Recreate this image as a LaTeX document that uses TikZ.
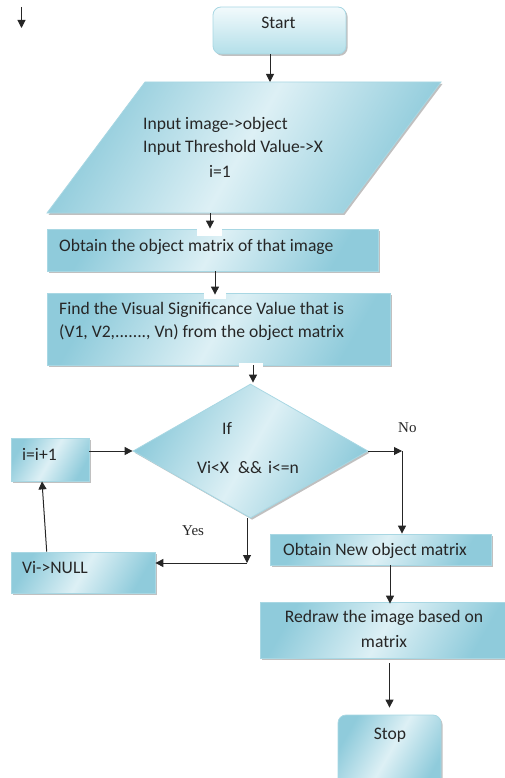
\documentclass[tikz,border=0pt]{standalone}
\usepackage{fontspec}
\setmainfont{Carlito}
\newfontfamily\serifont{Liberation Serif}
\usetikzlibrary{shapes.geometric,arrows.meta,shadows}
\definecolor{boxdark}{HTML}{8FCBDB}
\definecolor{boxlight}{HTML}{DDF0F5}
\definecolor{boxline}{HTML}{A8D7E3}
\definecolor{termtop}{HTML}{F2FAFC}
\definecolor{termbot}{HTML}{B3DFE9}
\tikzset{
  shade/.style={draw=boxline, line width=0.8pt,
    left color=boxdark, right color=boxdark, middle color=boxlight, shading angle=60,
    drop shadow={shadow xshift=1.6pt, shadow yshift=-1.8pt, fill=black!55, opacity=0.45}},
  procbox/.style={shade, rectangle, inner sep=0pt},
  termbox/.style={draw=boxline, line width=0.8pt, rectangle, rounded corners=8pt, inner sep=0pt,
    top color=termtop, bottom color=termbot,
    drop shadow={shadow xshift=1.6pt, shadow yshift=-1.8pt, fill=black!55, opacity=0.45}},
  stopbox/.style={shade, rectangle, rounded corners=8pt, inner sep=0pt},
  decbox/.style={shade, diamond, inner sep=0pt},
  arr/.style={-{Triangle[length=8pt,width=8pt]}, line width=1pt, black!85},
  lbl/.style={font=\fontsize{17.6}{23}\selectfont, inner sep=0pt, text=black!85},
  slbl/.style={font=\serifont\fontsize{15}{18}\selectfont, inner sep=0pt, text=black!85},
  notch/.style={fill=white, draw=none}
}
\begin{document}
\begin{tikzpicture}[x=1pt,y=-1pt]
\useasboundingbox (0,0) rectangle (505,778);

% stray arrow
\coordinate (s1) at (21.5,7);
\coordinate (s2) at (21.5,28);
\draw[arr] (s1) -- (s2);

% shapes
\node[termbox, minimum width=133pt, minimum height=47pt] (start) at (279.5,30.5) {};
\path[shade] (145,82) -- (441,82) -- (343,213) -- (47,213) -- cycle;
\coordinate (parT) at (270,82);
\coordinate (parB) at (210,213);
\node[procbox, minimum width=331pt, minimum height=42pt] (box1) at (212.5,250) {};
\node[procbox, minimum width=343pt, minimum height=72pt] (box2) at (218.5,329) {};
\node[decbox, minimum width=235pt, minimum height=134pt] (dia) at (250.5,451) {};
\node[procbox, minimum width=78pt, minimum height=43pt] (inc) at (50,459.5) {};
\node[procbox, minimum width=144pt, minimum height=41pt] (null) at (83,572.5) {};
\node[procbox, minimum width=221pt, minimum height=31pt] (onew) at (380.5,549.5) {};
\node[procbox, minimum width=248pt, minimum height=56pt] (redraw) at (384,630) {};
\node[stopbox, minimum width=103pt, minimum height=75pt] (stop) at (389.5,752.5) {};

% white notches
\fill[notch] (197,228) rectangle (222,236);
\fill[notch] (204,292) rectangle (226,299);
\fill[notch] (239,363) rectangle (263,368);

% texts
\node[lbl, anchor=base] (tstart) at (278.5,29) {Start};
\node[lbl, anchor=base west] (tp1) at (143,130) {Input image->object};
\node[lbl, anchor=base west] (tp2) at (143,153) {Input Threshold Value->X};
\node[lbl, anchor=base west] (tp3) at (209,177) {i=1};
\node[lbl, anchor=base west] (tb1) at (59,251) {Obtain the object matrix of that image};
\node[lbl, anchor=base west] (tb2a) at (59,314) {Find the Visual Significance Value that is};
\node[lbl, anchor=base west] (tb2b) at (59,337) {(V1, V2,......., Vn) from the object matrix};
\node[lbl, anchor=base west] (tif) at (222,434) {If};
\node[lbl, anchor=base west] (tcond) at (197,473) {Vi<X\hspace{9pt}\&\&\hspace{6pt}i<=n};
\node[slbl, anchor=base west] (tno) at (398,432) {No};
\node[slbl, anchor=base west] (tyes) at (182,535) {Yes};
\node[lbl, anchor=base west] (tinc) at (22,460) {i=i+1};
\node[lbl, anchor=base west] (tnull) at (22,573) {Vi->NULL};
\node[lbl, anchor=base west] (tonew) at (283,555) {Obtain New object matrix};
\node[lbl, anchor=base] (trd1) at (384,622) {Redraw the image based on};
\node[lbl, anchor=base] (trd2) at (384,647) {matrix};
\node[lbl, anchor=base] (tstop) at (390,739) {Stop};

% connectors
\draw[arr] (start.south -| parT) -- (parT);
\draw[arr] (parB) -- (box1.north -| parB);
\draw[arr] (box1.south -| 215,0) -- ([yshift=-2pt]box2.north -| 215,0);
\draw[arr] (box2.south -| 253,0) -- ([yshift=1pt]dia.north -| 253,0);
\coordinate (noC) at (402,451);
\draw[arr] (dia.east) -- (noC);
\draw[arr] (noC) -- (onew.north -| noC);
\coordinate (yesC) at (247,563);
\draw[arr] ([xshift=-3.5pt]dia.south) -- (yesC);
\draw[arr] (yesC) -- (null.east |- yesC);
\draw[arr] (inc.east |- dia.west) -- (dia.west);
\draw[arr] (null.north -| 46.7,0) -- (inc.south -| 42,0);
\draw[arr] (onew.south -| 390,0) -- ([yshift=-2pt]redraw.north -| 390,0);
\draw[arr, shorten <=5pt, shorten >=7pt] (redraw.south -| stop.north) -- (stop.north);
\end{tikzpicture}
\end{document}
